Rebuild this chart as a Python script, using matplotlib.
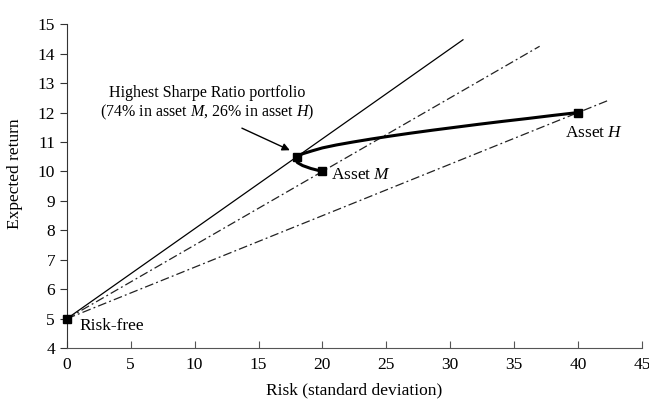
import matplotlib
matplotlib.use("Agg")
import matplotlib.pyplot as plt

plt.rcParams['font.family'] = ['Liberation Serif', 'DejaVu Serif']
plt.rcParams['mathtext.fontset'] = 'custom'
plt.rcParams['mathtext.it'] = 'Liberation Serif:italic'
plt.rcParams['mathtext.rm'] = 'Liberation Serif'

# Точки активов (риск, доходность)
risk_free = (0, 5)
asset_m = (20, 10)
asset_h = (40, 12)
tangency = (18, 10.5)

# Граница (кривая портфелей M-H)
frontier_risk = [20, 19.1, 18.45, 18.05, 17.9, 18.1, 18.45, 19.2, 20, 21.1, 22.4, 23.8,
                 25.3, 26.9, 28.6, 30.4, 32.2, 34.1, 36.1, 38.0, 40]
frontier_ret = [10, 10.1, 10.2, 10.3, 10.4, 10.52, 10.6, 10.7, 10.8, 10.9, 11.0, 11.1,
                11.2, 11.3, 11.4, 11.5, 11.6, 11.7, 11.8, 11.9, 12]

# Концы прямых из безрисковой точки
cml_x = [0, 31]
cml_y = [5, 14.47]
line_m_x = [0, 37]
line_m_y = [5, 14.25]
line_h_x = [0, 42.3]
line_h_y = [5, 12.4]

fig = plt.figure(figsize=(6.49, 4.03), dpi=100)
ax = fig.add_axes([0.103, 0.136, 0.886, 0.804])

ax.plot(cml_x, cml_y, color='black', lw=0.9)
ax.plot(line_m_x, line_m_y, color='#222222', lw=0.9, linestyle=(0, (7, 2.5, 1.5, 2.5)))
ax.plot(line_h_x, line_h_y, color='#222222', lw=0.9, linestyle=(0, (7, 2.5, 1.5, 2.5)))
ax.plot(frontier_risk, frontier_ret, color='black', lw=2.2, solid_capstyle='round')

pts = [risk_free, asset_m, asset_h, tangency]
ax.plot([p[0] for p in pts], [p[1] for p in pts], 's', color='black', ms=5.5, clip_on=False, zorder=5)

ax.text(1.0, 4.75, 'Risk-free', fontsize=12.5, va='center', ha='left')
ax.text(20.7, 9.87, r'Asset $M$', fontsize=12.5, va='center', ha='left')
ax.text(39.0, 11.3, r'Asset $H$', fontsize=12.5, va='center', ha='left')

ax.text(11.0, 12.3, 'Highest Sharpe Ratio portfolio\n' + r'(74% in asset $M$, 26% in asset $H$)',
        fontsize=11.5, ha='center', va='center', linespacing=1.1)
ax.annotate('', xy=(17.45, 10.72), xytext=(13.7, 11.47),
            arrowprops=dict(arrowstyle='-|>', color='black', lw=1.0, mutation_scale=11,
                            shrinkA=0, shrinkB=0))

ax.set_xlim(0, 45)
ax.set_ylim(4, 15)
ax.set_xticks(range(0, 46, 5))
ax.set_yticks(range(4, 16))
ax.spines['top'].set_visible(False)
ax.spines['right'].set_visible(False)
ax.spines['left'].set_color('#333333')
ax.spines['bottom'].set_color('#555555')
ax.tick_params(axis='y', direction='out', length=5, labelsize=12.5, color='#333333')
ax.tick_params(axis='x', direction='in', length=5, labelsize=12.5, pad=6, color='#555555')

ax.set_xlabel('Risk (standard deviation)', fontsize=12.5, labelpad=7)
ax.set_ylabel('Expected return', fontsize=12.5)
ax.yaxis.set_label_coords(-0.076, 0.54)

fig.savefig('out.png', dpi=100)
